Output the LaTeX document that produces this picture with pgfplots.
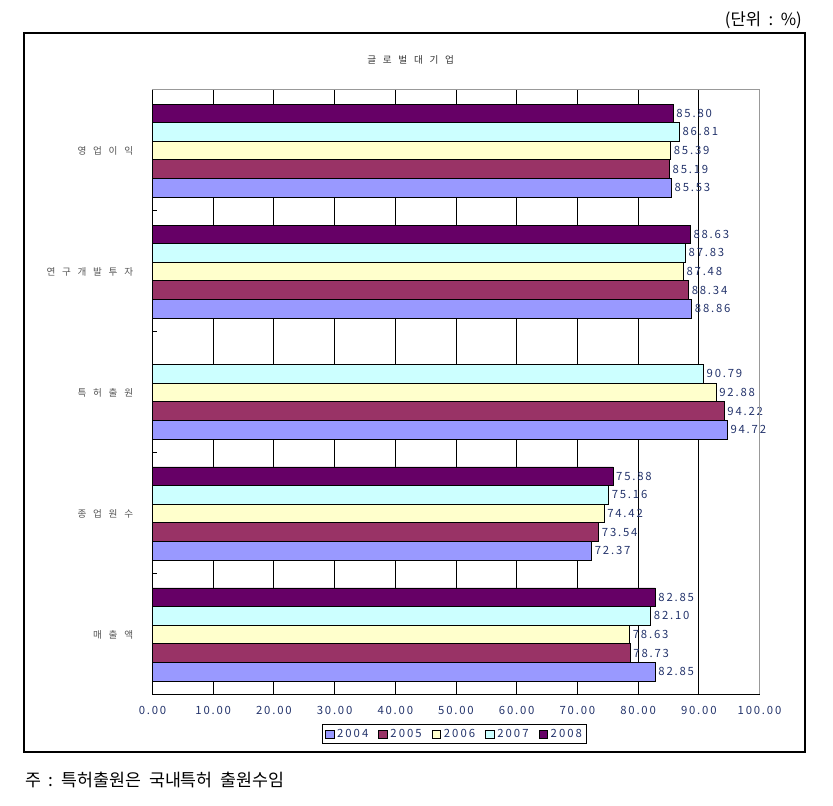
\documentclass[border=0pt]{standalone}
\usepackage{fontspec}
\setmainfont{Noto Sans CJK KR}
\newfontfamily\numfont[LetterSpace=16]{Noto Sans CJK KR}
\newfontfamily\lgfont[LetterSpace=18]{Noto Sans CJK KR}
\newfontfamily\catfont[LetterSpace=70]{Noto Sans CJK KR}
\usepackage{pgfplots}
\pgfplotsset{compat=1.18}
\definecolor{c2004}{HTML}{9999FF}
\definecolor{c2005}{HTML}{993366}
\definecolor{c2006}{HTML}{FFFFCC}
\definecolor{c2007}{HTML}{CCFFFF}
\definecolor{c2008}{HTML}{660066}
\definecolor{numblue}{HTML}{23336B}
\definecolor{labgray}{HTML}{555555}

\begin{document}
\begin{tikzpicture}
\path (0,0) rectangle (624.75pt,604.5pt);
\draw[line width=0.9pt] (18pt,40.5pt) rectangle (603.75pt,579.75pt);
\node[anchor=east,inner sep=0pt,font=\fontsize{12.5}{14}\selectfont] at (601.5pt,589.5pt) {(단위\ \ :\ \ \%)};
\node[font=\catfont\fontsize{7.2}{8}\selectfont,text=black!80] at (308pt,559.5pt) {글로벌대기업};

\begin{axis}[
  scale only axis, width=455.25pt, height=453.75pt,
  at={(114.375pt,83.25pt)}, anchor=south west,
  xmin=0, xmax=100, ymin=-0.5, ymax=4.5,
  xbar, bar width=0.1537,
  xtick={0,10,...,100}, xmajorgrids,
  major grid style={black,line width=0.75pt},
  ytick={0,...,4},
  yticklabels={매출액,종업원수,특허출원,연구개발투자,영업이익},
  minor ytick={-0.5,0.5,...,4.5},
  major tick length=0pt, minor tick length=3pt,
  ytick pos=left, xtick pos=bottom, tick align=inside,
  minor tick style={black,line width=0.75pt},
  axis line style={draw=gray!80,line width=0.75pt},
  /pgf/number format/assume math mode=true,
  xticklabel={\pgfmathprintnumber[fixed,fixed zerofill,precision=2]{\tick}},
  xticklabel style={font=\numfont\fontsize{8.5}{9}\selectfont,text=numblue,yshift=-5pt},
  yticklabel style={font=\catfont\fontsize{7.2}{8}\selectfont,text=labgray,xshift=-11pt},
  every axis plot/.append style={draw=black,line width=0.6pt},
  nodes near coords={\pgfmathprintnumber[fixed,fixed zerofill,precision=2]{\pgfplotspointmeta}},
  every node near coord/.append style={font=\numfont\fontsize{8.5}{9}\selectfont,text=numblue,inner sep=2pt},
  legend style={at={(0.498,-0.0645)},anchor=center,legend columns=5,draw=black,line width=0.75pt,
    font=\lgfont\fontsize{8.5}{9}\selectfont,text=numblue,inner sep=1.5pt,
    /tikz/every even column/.append style={column sep=5.5pt}},
  legend image code/.code={\draw[#1,line width=0.6pt] (0pt,-3pt) rectangle (6.5pt,3pt);},
  after end axis/.code={
    \draw[gray!80,line width=0.75pt] (rel axis cs:1,0) -- (rel axis cs:1,1);
    \draw[black,line width=0.75pt] (rel axis cs:0,1) -- (rel axis cs:0,0) -- (rel axis cs:1,0);
  },
]
\addplot[fill=c2004,bar shift=-0.3074] coordinates {(85.53,4) (88.86,3) (94.72,2) (72.37,1) (82.85,0)};
\addplot[fill=c2005,bar shift=-0.1537] coordinates {(85.19,4) (88.34,3) (94.22,2) (73.54,1) (78.73,0)};
\addplot[fill=c2006,bar shift=0] coordinates {(85.39,4) (87.48,3) (92.88,2) (74.42,1) (78.63,0)};
\addplot[fill=c2007,bar shift=0.1537] coordinates {(86.81,4) (87.83,3) (90.79,2) (75.16,1) (82.10,0)};
\addplot[fill=c2008,bar shift=0.3074] coordinates {(85.80,4) (88.63,3) (75.88,1) (82.85,0)};
\legend{2004,2005,2006,2007,2008}
\end{axis}

\node[anchor=west,inner sep=0pt,font=\fontsize{13}{15}\selectfont] at (18.75pt,19.5pt) {주\ \ :\ \ 특허출원은\ \ 국내특허\ \ 출원수임};
\end{tikzpicture}
\end{document}
